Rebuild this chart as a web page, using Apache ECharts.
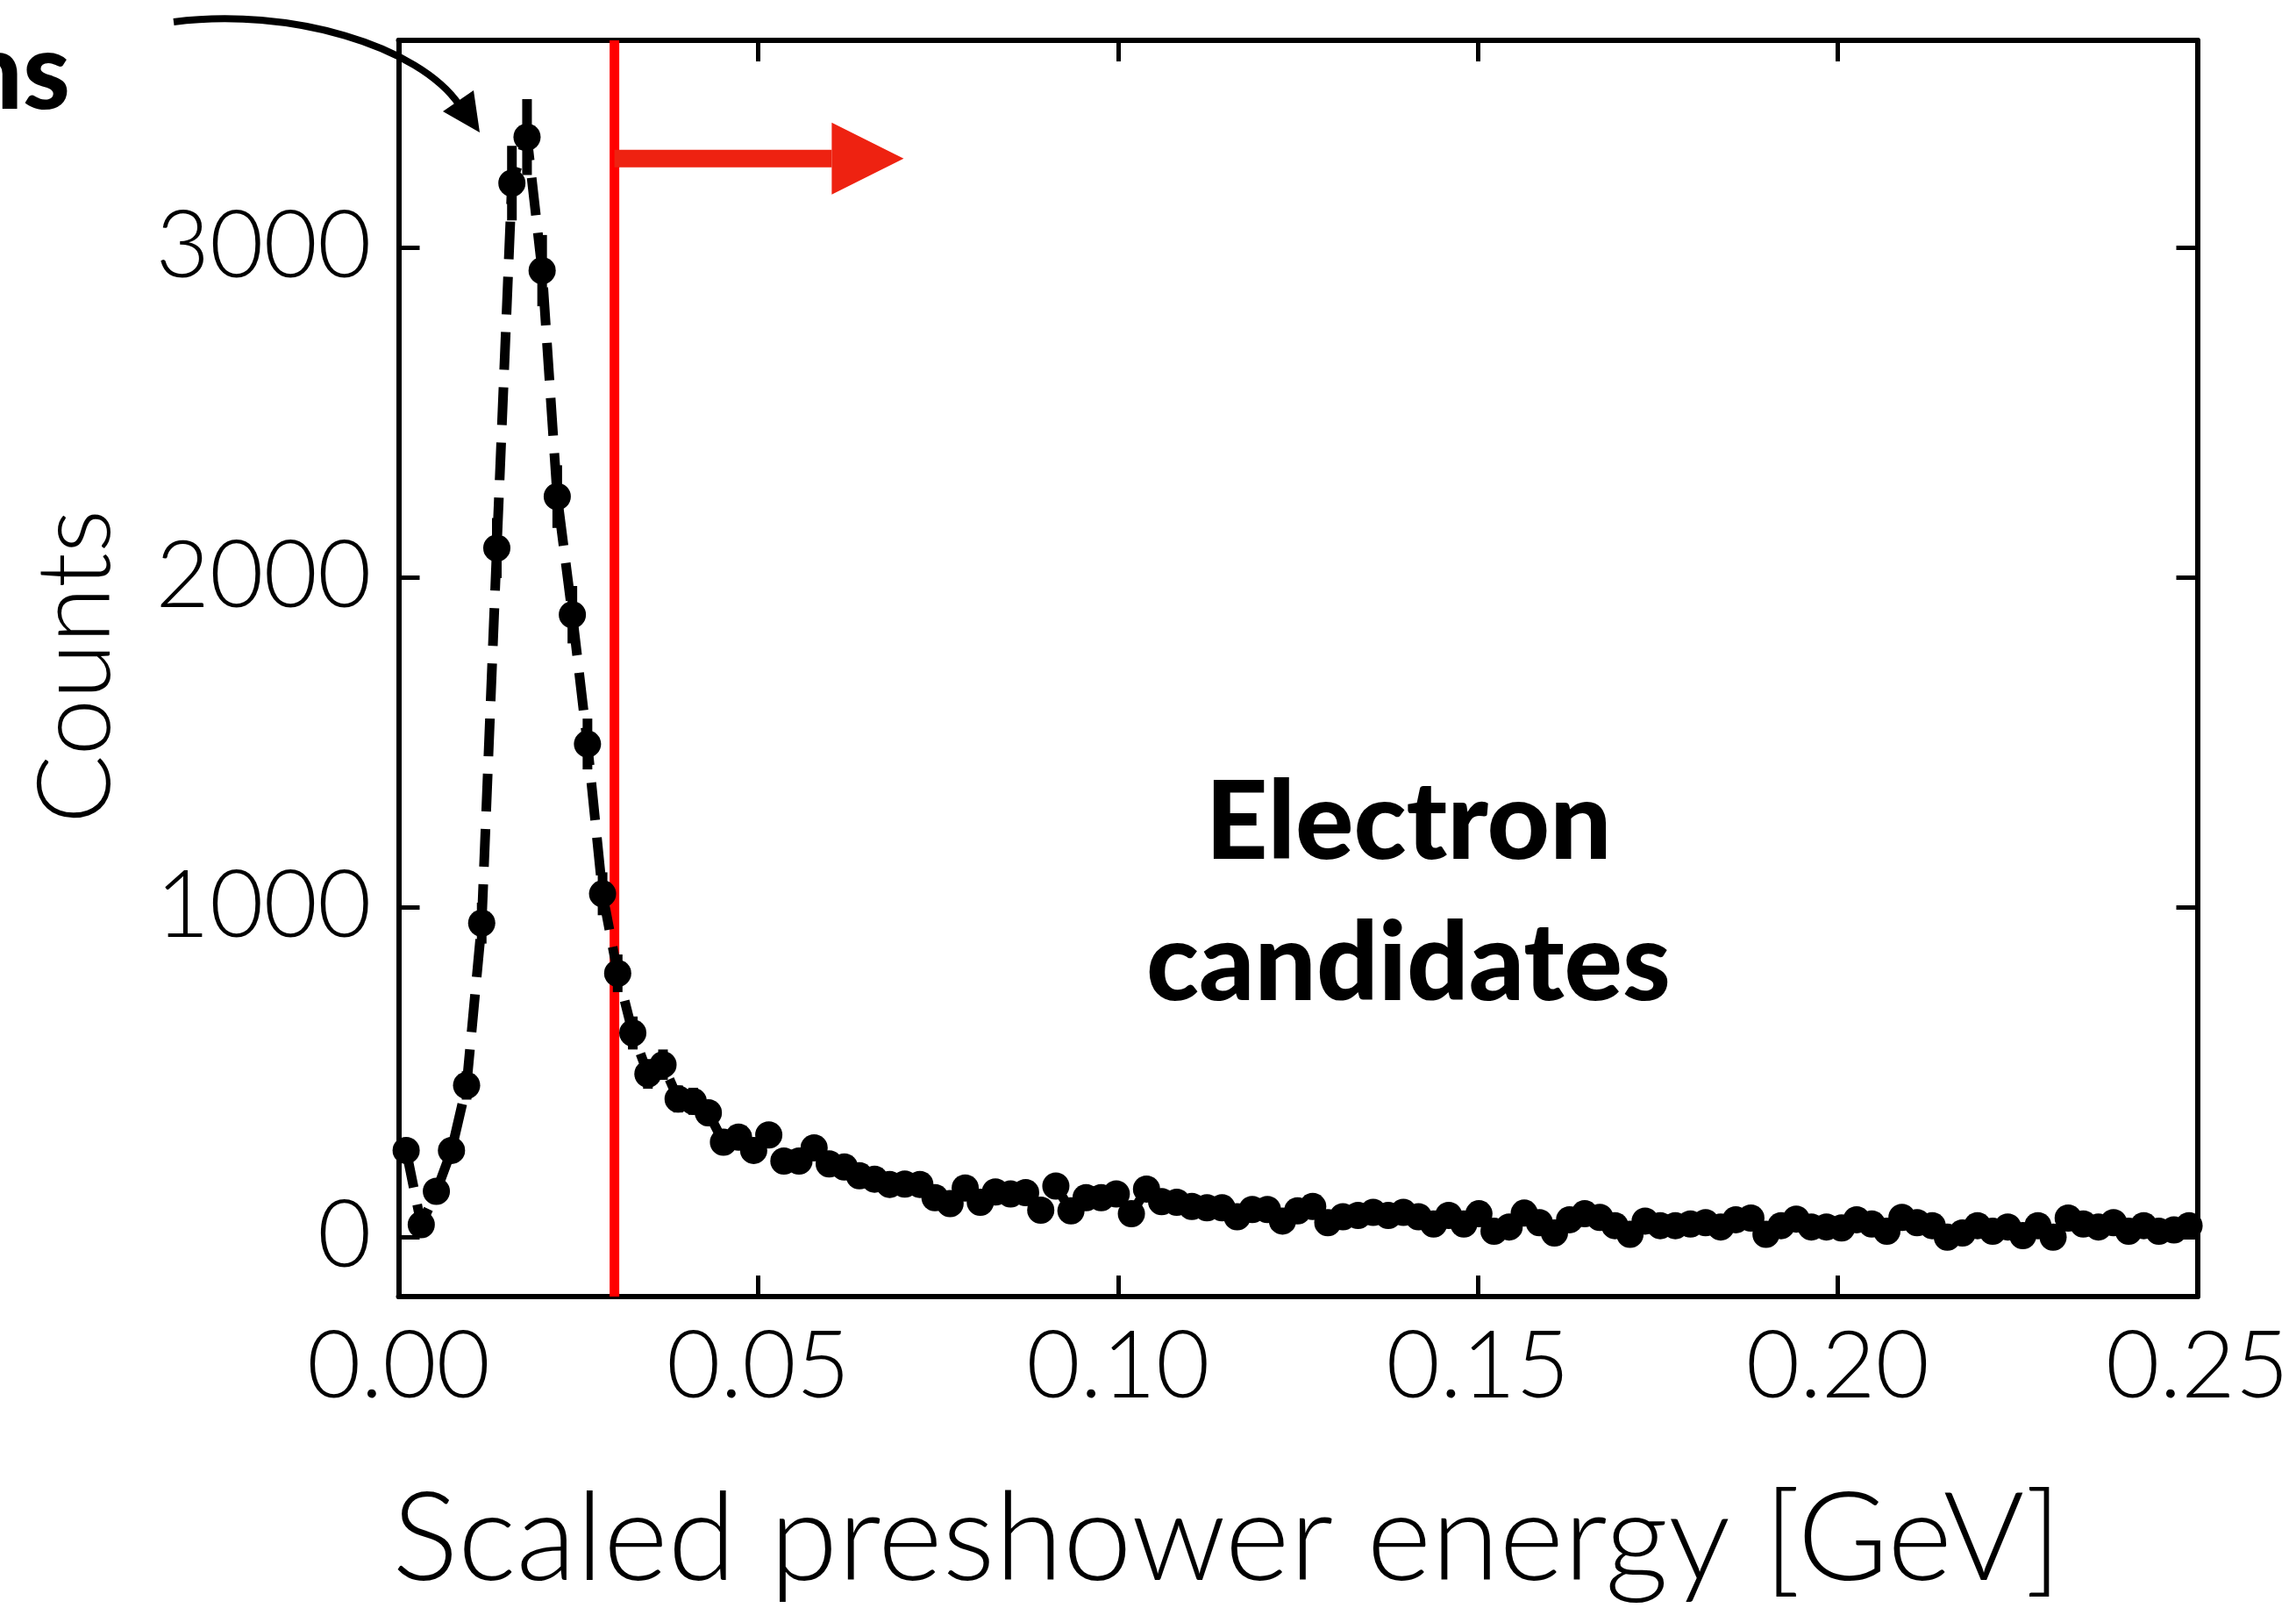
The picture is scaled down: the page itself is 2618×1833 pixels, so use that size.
<!DOCTYPE html>
<html><head><meta charset="utf-8">
<script src="https://cdn.jsdelivr.net/npm/echarts@6/dist/echarts.min.js"></script>
<style>html,body{margin:0;padding:0;background:#fff}#chart{width:2618px;height:1833px}</style>
</head><body><div id="chart"></div>
<script>
// Bin centres of the scaled preshower energy histogram [GeV]
const energy = [
0.00105,0.00315,0.00525,0.00735,0.00945,0.01155,0.01365,0.01575,0.01785,0.01995,
0.02205,0.02415,0.02625,0.02835,0.03045,0.03255,0.03465,0.03675,0.03885,0.04095,
0.04305,0.04515,0.04725,0.04935,0.05145,0.05355,0.05565,0.05775,0.05985,0.06195,
0.06405,0.06615,0.06825,0.07035,0.07245,0.07455,0.07665,0.07875,0.08085,0.08295,
0.08505,0.08715,0.08925,0.09135,0.09345,0.09555,0.09765,0.09975,0.10185,0.10395,
0.10605,0.10815,0.11025,0.11235,0.11445,0.11655,0.11865,0.12075,0.12285,0.12495,
0.12705,0.12915,0.13125,0.13335,0.13545,0.13755,0.13965,0.14175,0.14385,0.14595,
0.14805,0.15015,0.15225,0.15435,0.15645,0.15855,0.16065,0.16275,0.16485,0.16695,
0.16905,0.17115,0.17325,0.17535,0.17745,0.17955,0.18165,0.18375,0.18585,0.18795,
0.19005,0.19215,0.19425,0.19635,0.19845,0.20055,0.20265,0.20475,0.20685,0.20895,
0.21105,0.21315,0.21525,0.21735,0.21945,0.22155,0.22365,0.22575,0.22785,0.22995,
0.23205,0.23415,0.23625,0.23835,0.24045,0.24255,0.24465,0.24675,0.24885];

// Counts per bin
const counts = [
263,38,139,263,460,952,2089,3195,3335,2930,
2245,1887,1495,1041,800,619,495,523,419,412,
377,288,303,263,310,231,231,271,222,213,
186,176,160,161,160,120,102,149,106,137,
131,135,82,155,80,120,120,131,71,146,
108,106,93,89,89,62,84,84,49,80,
93,44,62,66,75,66,75,62,40,66,
40,71,18,31,73,44,13,53,71,60,
35,9,49,35,35,40,44,31,53,58,
9,35,55,31,31,28,53,40,18,60,
44,35,0,13,35,18,31,5,35,0,
58,40,31,44,18,35,18,22,35];

// Half-length of the error bars (counts)
const countErrors = [
32,12,24,32,43,62,91,113,115,108,
95,87,77,65,57,50,45,46,41,41,
39,34,35,32,35,30,30,33,30,29,
27,27,25,25,25,22,20,24,21,23,
23,23,18,25,18,22,22,23,17,24,
21,21,19,19,19,16,18,18,14,18,
19,13,16,16,17,16,17,16,13,16,
13,17,8,11,17,13,7,15,17,15,
12,6,14,12,12,13,13,11,15,15,
6,12,15,11,11,11,15,13,8,15,
13,12,0,7,12,8,11,4,12,0,
15,13,11,13,8,12,8,9,12];

const yTickValues = [0, 1000, 2000, 3000];
const xMin = 0, xMax = 0.25, xStep = 0.05;
const yMin = -180, yMax = 3628;

// Annotation anchors in data units
const cutEnergy = 0.03;
const arrowLevel = 3270;
const arrowBaseEnergy = 0.0602;
const arrowTipEnergy = 0.0702;

const FONT = 'Lato';
const chart = echarts.init(document.getElementById('chart'), null, {renderer: 'canvas'});
const points = energy.map((e, i) => [e, counts[i], countErrors[i]]);

const axisLine = {show: true, onZero: false, lineStyle: {color: '#000', width: 6}};
const tick = {show: true, inside: true, length: 24, lineStyle: {color: '#000', width: 5}};
const labelStyle = {fontFamily: FONT, fontSize: 106, fontWeight: 300, color: '#000'};

chart.setOption({
  animation: false,
  backgroundColor: '#fff',
  grid: {left: 454.5, top: 46, width: 2051, height: 1432, containLabel: false},
  xAxis: [
    {type: 'value', min: xMin, max: xMax, interval: xStep, position: 'bottom',
     axisLine, axisTick: tick, splitLine: {show: false},
     axisLabel: Object.assign({margin: 28, formatter: v => v.toFixed(2)}, labelStyle)},
    {type: 'value', min: xMin, max: xMax, interval: xStep, position: 'top',
     axisLine, axisTick: tick, splitLine: {show: false}, axisLabel: {show: false}}
  ],
  yAxis: [
    {type: 'value', min: yMin, max: yMax, position: 'left',
     axisLine, axisTick: Object.assign({customValues: yTickValues}, tick), splitLine: {show: false},
     axisLabel: Object.assign({margin: 31, customValues: yTickValues, formatter: v => String(Math.round(v))}, labelStyle)},
    {type: 'value', min: yMin, max: yMax, position: 'right',
     axisLine, axisTick: Object.assign({customValues: yTickValues}, tick), splitLine: {show: false},
     axisLabel: {show: false}}
  ],
  series: [
    {type: 'line', name: 'cut', data: [[cutEnergy, yMin], [cutEnergy, yMax]],
     symbol: 'none', lineStyle: {color: '#ff0000', width: 11}, z: 1, silent: true},
    {type: 'custom', name: 'errors', data: points, z: 3, clip: true,
     encode: {x: 0, y: 1},
     renderItem: function (params, api) {
       const x = api.value(0), y = api.value(1), e = api.value(2);
       const a = api.coord([x, y + e]), b = api.coord([x, y - e]);
       return {type: 'line', shape: {x1: a[0], y1: a[1], x2: b[0], y2: b[1]},
               style: {stroke: '#000', lineWidth: 11}};
     }},
    {type: 'line', name: 'Counts', data: points.map(p => [p[0], p[1]]), z: 4, clip: true,
     symbol: 'circle', symbolSize: 31, itemStyle: {color: '#000', borderWidth: 0},
     lineStyle: {color: '#000', width: 11, type: [43, 20]}}
  ]
});

const P = (x, y) => chart.convertToPixel({xAxisIndex: 0, yAxisIndex: 0}, [x, y]);
const cutPx = P(cutEnergy, arrowLevel);
const basePx = P(arrowBaseEnergy, arrowLevel);
const tipPx = P(arrowTipEnergy, arrowLevel);
const hh = 41;

chart.setOption({
  graphic: [
    {type: 'rect', shape: {x: cutPx[0], y: cutPx[1] - 10, width: basePx[0] - cutPx[0], height: 20},
     style: {fill: '#ee2211'}, z: 10},
    {type: 'polygon', shape: {points: [[basePx[0], basePx[1] - hh], [tipPx[0], tipPx[1]], [basePx[0], basePx[1] + hh]]},
     style: {fill: '#ee2211'}, z: 10},
    {type: 'bezierCurve', shape: {x1: 198, y1: 25, cpx1: 330, cpy1: 8, cpx2: 478, cpy2: 52, x2: 524, y2: 120},
     style: {stroke: '#000', lineWidth: 8, fill: null}, z: 10},
    {type: 'polygon', shape: {points: [[505, 127], [540, 103], [547, 151]]},
     style: {fill: '#000'}, z: 10},
    {type: 'text', x: 80, y: 85, z: 10,
     style: {text: 'Pions', fontFamily: FONT, fontWeight: 900, fontSize: 122, fill: '#000',
             textAlign: 'right', textVerticalAlign: 'middle'}},
    {type: 'text', x: 1606, y: 939, z: 10,
     style: {text: 'Electron', fontFamily: FONT, fontWeight: 900, fontSize: 124, fill: '#000',
             textAlign: 'center', textVerticalAlign: 'middle'}},
    {type: 'text', x: 1606, y: 1100, z: 10,
     style: {text: 'candidates', fontFamily: FONT, fontWeight: 900, fontSize: 124, fill: '#000',
             textAlign: 'center', textVerticalAlign: 'middle'}},
    {type: 'text', x: 1399, y: 1756, z: 10,
     style: {text: 'Scaled preshower energy [GeV]', fontFamily: FONT, fontWeight: 300, fontSize: 141, fill: '#000',
             textAlign: 'center', textVerticalAlign: 'middle'}},
    {type: 'text', x: 88, y: 760, rotation: Math.PI / 2, z: 10,
     style: {text: 'Counts', fontFamily: FONT, fontWeight: 300, fontSize: 116, fill: '#000',
             textAlign: 'center', textVerticalAlign: 'middle'}}
  ]
});
</script></body></html>
